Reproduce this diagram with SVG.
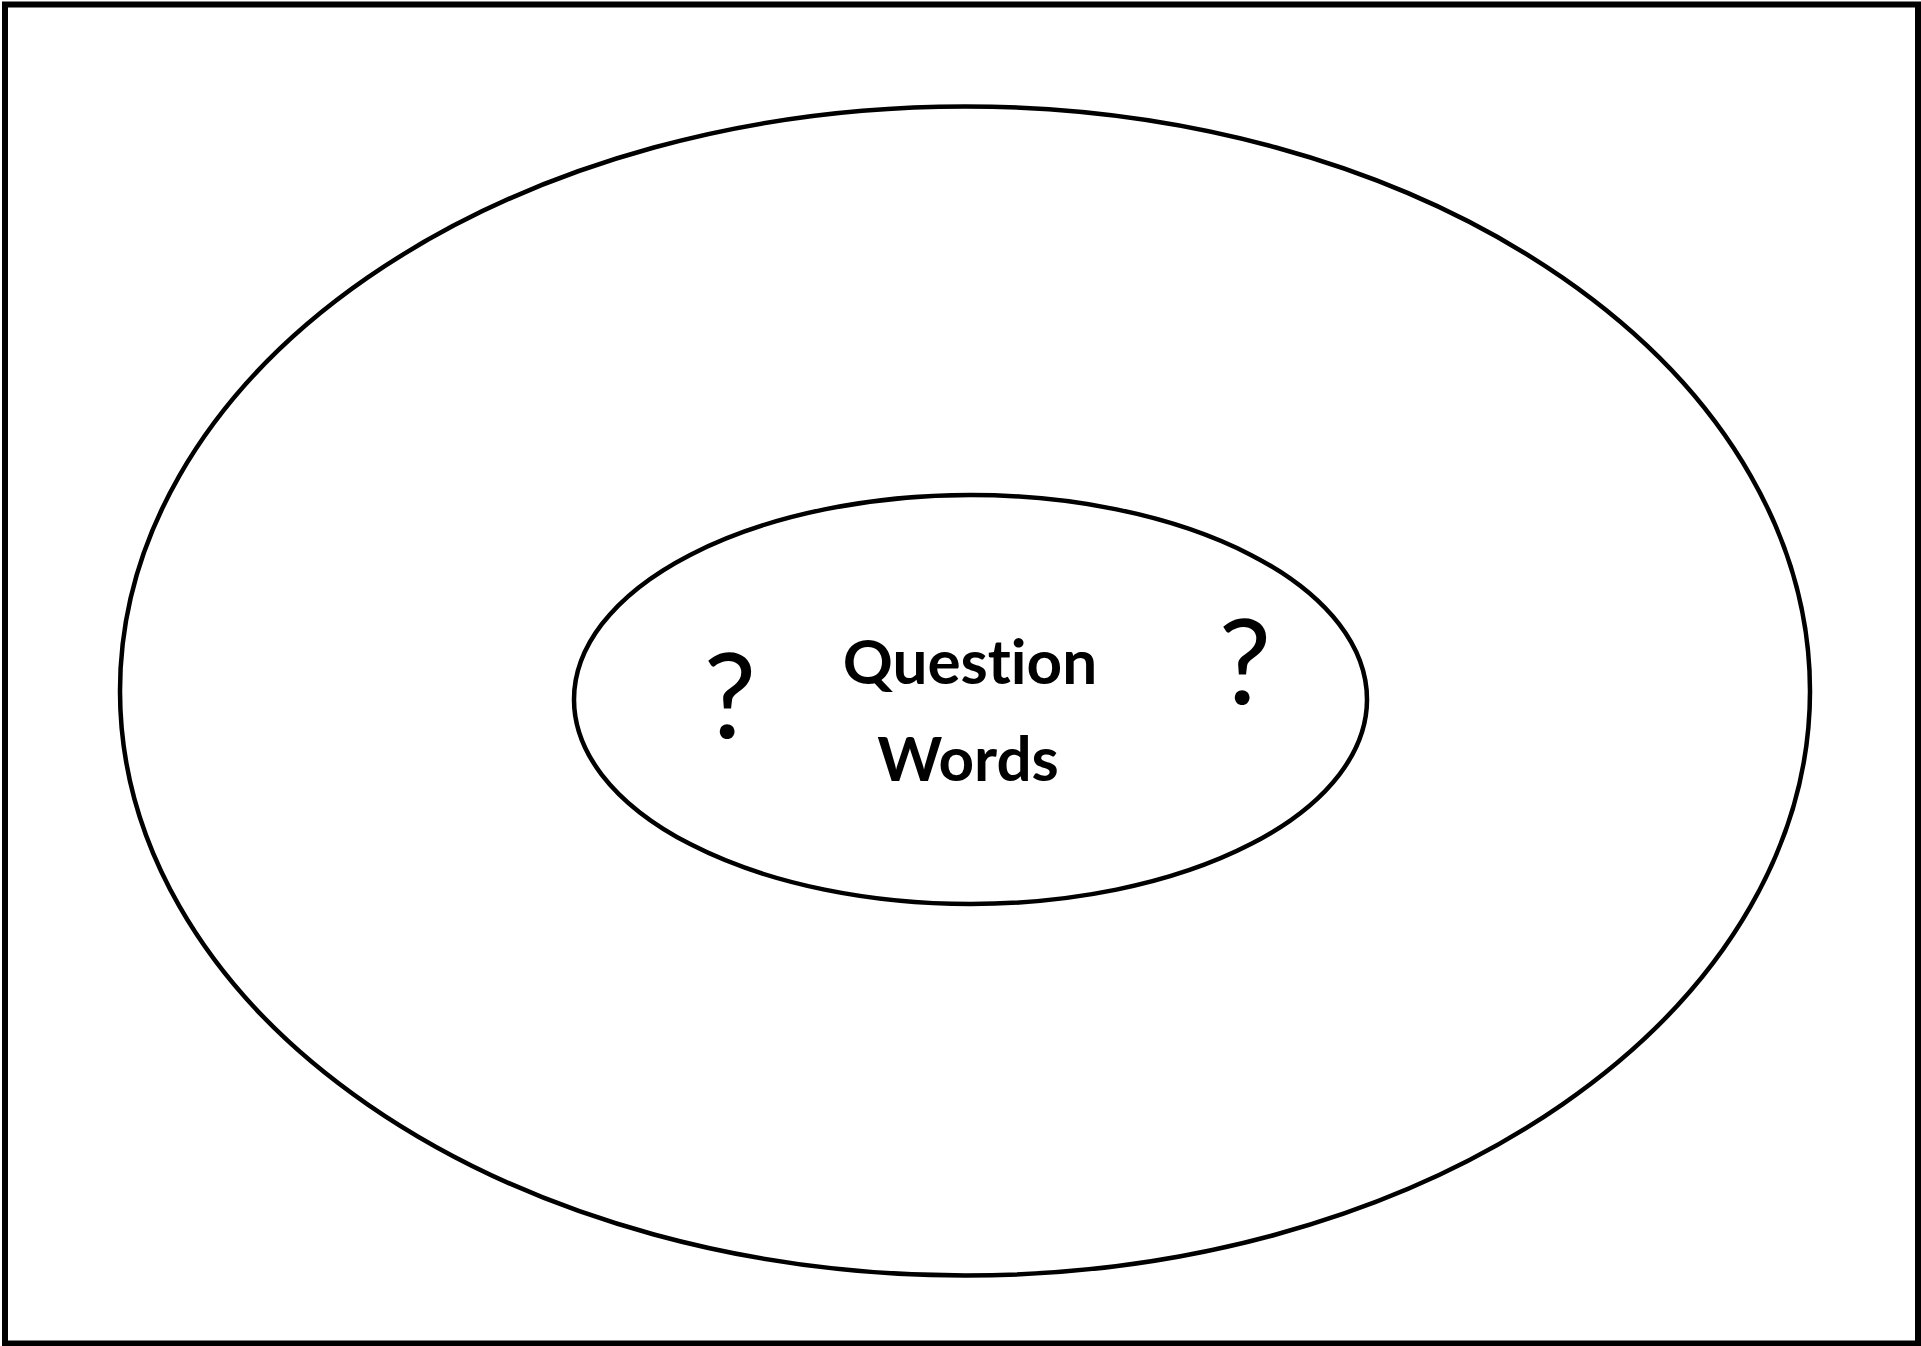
<svg xmlns="http://www.w3.org/2000/svg" width="1921" height="1346" viewBox="0 0 1921 1346">
<style>
.frame{fill:none;stroke:#000;stroke-width:6}
.ring{fill:none;stroke:#000;stroke-width:4.5}
.label{font-family:Lato,"Open Sans","Liberation Sans",sans-serif;font-weight:bold;font-size:62px;fill:#000;text-anchor:middle;font-variant-ligatures:none;font-feature-settings:"liga" 0}
.qm{font-family:Lato,"Open Sans","Liberation Sans",sans-serif;font-size:118px;fill:#000;text-anchor:middle}
</style>
<rect width="1921" height="1346" fill="#fff"/>
<rect class="frame" x="5" y="4.5" width="1913" height="1339"/>
<g id="outer">
<ellipse class="ring" cx="965" cy="691" rx="845" ry="584.5"/>
</g>
<g id="inner">
<ellipse class="ring" cx="970.5" cy="699.5" rx="396.5" ry="204.5"/>
<text class="label" x="970" y="684">Question</text>
<text class="label" x="968" y="781">Words</text>
<text class="qm" x="730" y="738">?</text>
<text class="qm" x="1245" y="704">?</text>
</g>
<g id="connectors"/>
</svg>
